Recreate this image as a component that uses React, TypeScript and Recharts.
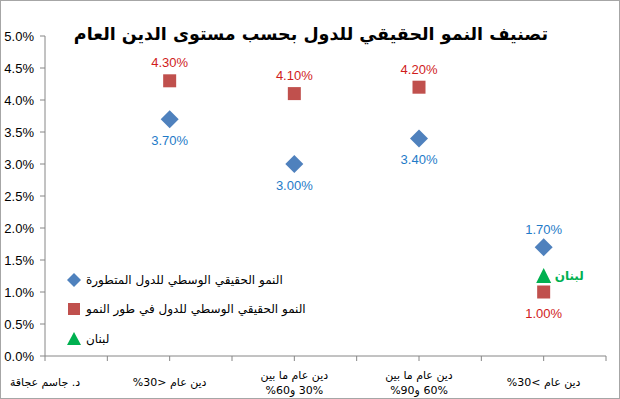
import { LabelList, Legend, Scatter, ScatterChart, XAxis, YAxis } from "recharts";

const chartTitle = "تصنيف النمو الحقيقي للدول بحسب مستوى الدين العام";

// x positions of the four debt groups on the 0..9 axis
const groupPos = [2, 4, 6, 8];
const developedGrowth = [3.7, 3.0, 3.4, 1.7];
const developingGrowth = [4.3, 4.1, 4.2, 1.0];
const lebanonPos = [8];
const lebanonGrowth = [1.25];

const seriesNames = [
  "النمو الحقيقي الوسطي للدول المتطورة",
  "النمو الحقيقي الوسطي للدول في طور النمو",
  "لبنان",
];

const xTicks = [0, 1, 2, 3, 4, 5, 6, 7, 8, 9];
const xTickLabels: string[][] = [
  ["د. جاسم عجاقة"],
  [],
  ["دين عام <30%"],
  [],
  ["دين عام ما بين", "30% و60%"],
  [],
  ["دين عام ما بين", "60% و90%"],
  [],
  ["دين عام >30%"],
  [],
];
const yTicks = [0, 0.5, 1, 1.5, 2, 2.5, 3, 3.5, 4, 4.5, 5];

const developedData = groupPos.map((x, i) => ({ x, y: developedGrowth[i] }));
const developingData = groupPos.map((x, i) => ({ x, y: developingGrowth[i] }));
const lebanonData = lebanonPos.map((x, i) => ({ x, y: lebanonGrowth[i] }));

const numFont = "'Liberation Sans', Arial, sans-serif";
const arFont = "'DejaVu Sans', sans-serif";
const axisColor = "#868686";
const blue = "#4F81BD";
const red = "#C0504D";
const green = "#00B050";

const Diamond = ({ cx, cy }: any) => (
  <polygon points={`${cx},${cy - 9} ${cx + 9},${cy} ${cx},${cy + 9} ${cx - 9},${cy}`} fill={blue} />
);
const Square = ({ cx, cy }: any) => <rect x={cx - 6.5} y={cy - 6.5} width={13} height={13} fill={red} />;
const Triangle = ({ cx, cy }: any) => (
  <polygon points={`${cx},${cy - 8} ${cx + 7.5},${cy + 7} ${cx - 7.5},${cy + 7}`} fill={green} />
);

const pctLabel = (color: string, above: (i: number) => boolean) => (props: any) => {
  const { x, y, width, height, value, index } = props;
  const cx = x + width / 2;
  const cy = y + height / 2;
  const up = above(index);
  return (
    <text
      x={cx}
      y={up ? cy - 18 : cy + 21}
      textAnchor="middle"
      dominantBaseline="central"
      fill={color}
      fontSize={13}
      fontFamily={numFont}
    >
      {Number(value).toFixed(2)}%
    </text>
  );
};

const lebanonLabel = (props: any) => {
  const { x, y, width, height } = props;
  return (
    <text
      x={x + width / 2 + 11}
      y={y + height / 2}
      dominantBaseline="central"
      fill={green}
      fontSize={12}
      fontWeight="bold"
      fontFamily={arFont}
      direction="rtl"
      textAnchor="end"
    >
      {seriesNames[2]}
    </text>
  );
};

const XTick = ({ x, y, payload }: any) => {
  const lines = xTickLabels[payload.value] || [];
  if (lines.length === 0) return null;
  const base = lines.length === 1 ? [23] : [16, 31];
  return (
    <g>
      {lines.map((l, i) => (
        <text
          key={i}
          x={x}
          y={y + base[i]}
          textAnchor="middle"
          direction="rtl"
          fontSize={11}
          fontFamily={arFont}
          fill="#000"
        >
          {l}
        </text>
      ))}
    </g>
  );
};

const legendMarkers = [
  <polygon points="8,1 15,8 8,15 1,8" fill={blue} />,
  <rect x={2} y={2} width={12} height={12} fill={red} />,
  <polygon points="8,1 15,14 1,14" fill={green} />,
];

const renderLegend = () => (
  <div style={{ fontFamily: arFont, fontSize: 12, color: "#000" }}>
    {seriesNames.map((name, i) => (
      <div key={i} style={{ display: "flex", alignItems: "center", height: 29.5 }}>
        <svg width={16} height={16} style={{ marginRight: 4 }}>
          {legendMarkers[i]}
        </svg>
        <span style={{ direction: "rtl" }}>{name}</span>
      </div>
    ))}
  </div>
);

export default function App() {
  return (
    <div
      style={{
        position: "absolute",
        left: 0,
        top: 0,
        width: 620,
        height: 399,
        boxSizing: "border-box",
        border: "1px solid #a6a6a6",
        background: "#fff",
      }}
    >
      <div
        style={{
          position: "absolute",
          left: 0,
          width: 620,
          top: 23,
          textAlign: "center",
          fontFamily: arFont,
          fontWeight: "bold",
          fontSize: 17.5,
          direction: "rtl",
          color: "#000",
          zIndex: 2,
        }}
      >
        {chartTitle}
      </div>
      <ScatterChart
        width={618}
        height={397}
        margin={{ top: 35, right: 13, bottom: 0, left: 0 }}
        style={{ position: "absolute", left: 0, top: 0 }}
      >
        <XAxis
          type="number"
          dataKey="x"
          domain={[0, 9]}
          ticks={xTicks}
          interval={0}
          height={42}
          tickSize={5}
          stroke={axisColor}
          tick={<XTick />}
        />
        <YAxis
          type="number"
          dataKey="y"
          domain={[0, 5]}
          ticks={yTicks}
          width={44}
          tickSize={5}
          tickMargin={6}
          stroke={axisColor}
          tick={{ fill: "#000", fontSize: 13, fontFamily: numFont }}
          tickFormatter={(v: number) => `${v.toFixed(1)}%`}
        />
        <Legend
          layout="vertical"
          align="center"
          verticalAlign="middle"
          content={renderLegend}
          wrapperStyle={{ left: 65, top: 264, width: 300 }}
        />
        <Scatter name={seriesNames[0]} data={developedData} shape={<Diamond />} isAnimationActive={false}>
          <LabelList dataKey="y" content={pctLabel("#1F7BC8", (i) => i === 3)} />
        </Scatter>
        <Scatter name={seriesNames[1]} data={developingData} shape={<Square />} isAnimationActive={false}>
          <LabelList dataKey="y" content={pctLabel("#D01C1C", (i) => i !== 3)} />
        </Scatter>
        <Scatter name={seriesNames[2]} data={lebanonData} shape={<Triangle />} isAnimationActive={false}>
          <LabelList dataKey="y" content={lebanonLabel} />
        </Scatter>
      </ScatterChart>
    </div>
  );
}
